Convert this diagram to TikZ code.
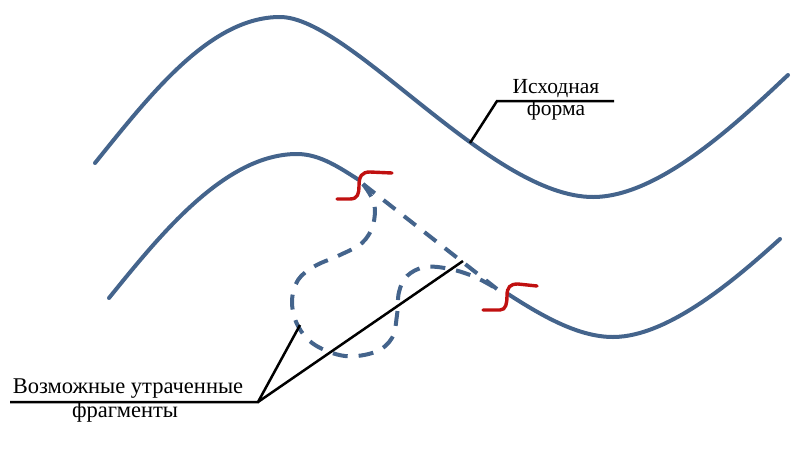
\documentclass[tikz,border=0pt]{standalone}
\usepackage{fontspec}
\setmainfont{Liberation Serif}
\definecolor{wave}{RGB}{68,100,140}
\definecolor{cut}{RGB}{192,16,16}
\begin{document}
\begin{tikzpicture}[x=1pt,y=-1pt,
  waveline/.style={draw=wave,line width=4pt,line cap=round},
  lostline/.style={draw=wave,line width=4pt,dash pattern=on 15pt off 11pt},
  cutline/.style={draw=cut,line width=3.4pt,line cap=round},
  leader/.style={draw=black,line width=2.5pt},
  lbl/.style={anchor=base,inner sep=0pt,font=\fontsize{21.5}{24}\selectfont},
  lblb/.style={anchor=base,inner sep=0pt,font=\fontsize{22.5}{25}\selectfont}]
\useasboundingbox (0,0) rectangle (805,453);
% original form
\draw[waveline] (95,163) .. controls (150,95) and (210,17) .. (280,17)
  .. controls (350,17) and (490,197) .. (593,197)
  .. controls (660,197) and (740,120) .. (788,75);
% damaged form
\draw[waveline] (109,298) .. controls (160,235) and (225,154) .. (297,154)
  .. controls (320,154) and (340,168) .. (359,180);
\draw[waveline] (508,294) .. controls (545,318) and (580,337) .. (613,337)
  .. controls (670,337) and (740,275) .. (780,239);
% breaks
\draw[cutline] (337,199) -- (350,199) .. controls (358,199) and (359,193) .. (359,186) .. controls (359,176) and (362,172) .. (370,172) -- (392,173);
\draw[cutline] (483,310) -- (500,310) .. controls (506,310) and (507,303) .. (507,296) .. controls (507,287) and (510,284) .. (518,284) -- (537,286);
% possible lost fragments
\coordinate (b1) at (363,184);
\coordinate (b2) at (497,289);
\draw[lostline] (b1) -- (b2);
\draw[lostline] plot[smooth,tension=0.6] coordinates {(363,184) (374,203) (373,225) (362,243) (340,255) (315,266) (298,280) (292,302) (298,326) (315,345) (345,356) (375,352) (392,338) (397,315) (399,292) (407,276) (425,267) (450,269) (475,277) (497,289)};
% labels
\node[lbl] (t1) at (556,93) {Исходная};
\node[lbl] (t2) at (556,115) {форма};
\coordinate (u0) at (470,143);
\coordinate (u1) at (497,101);
\coordinate (u2) at (614,101);
\draw[leader] (u0) -- (u1) -- (u2);
\node[lblb] (t3) at (128,393) {Возможные утраченные};
\node[lblb] (t4) at (125,417) {фрагменты};
\coordinate (l0) at (10,402);
\coordinate (l1) at (258,402);
\coordinate (l2) at (300,325);
\coordinate (l3) at (463,261);
\draw[leader] (l0) -- (l1) -- (l2);
\draw[leader] (l1) -- (l3);
\end{tikzpicture}
\end{document}
